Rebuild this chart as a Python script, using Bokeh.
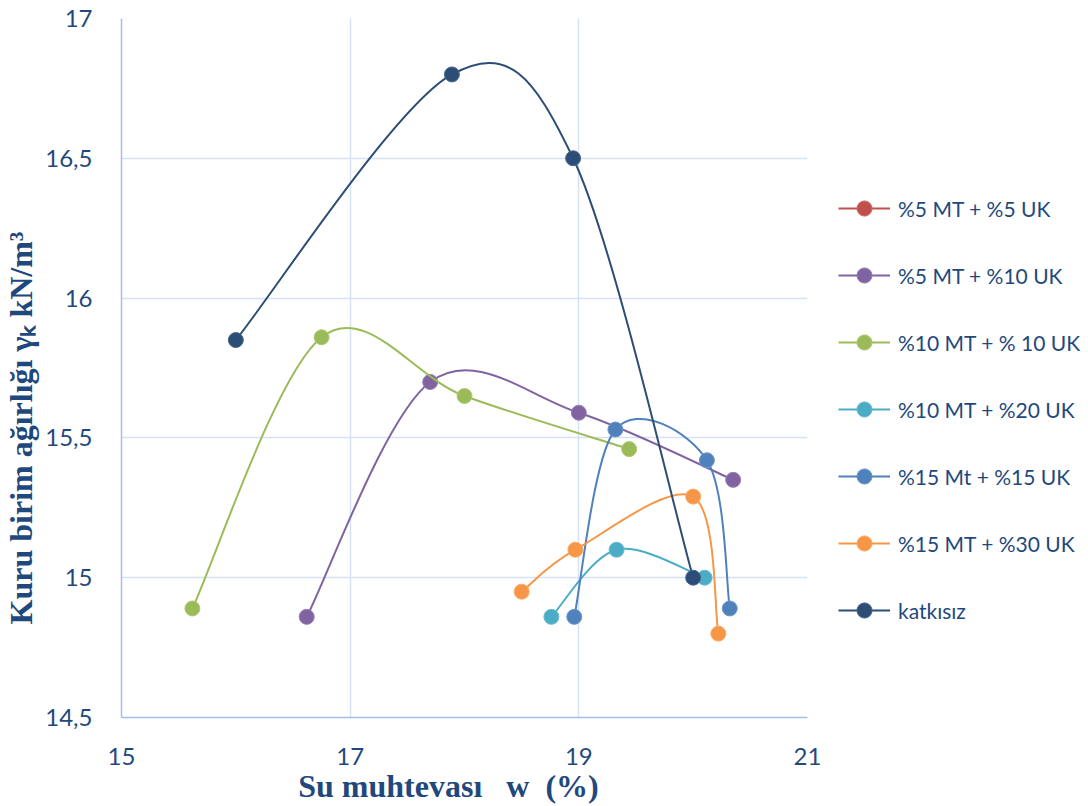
from bokeh.plotting import figure
from bokeh.layouts import row
from bokeh.models import Range1d, FixedTicker, Legend, LegendItem, ColumnDataSource
from bokeh.embed import file_html
from bokeh.resources import INLINE

# ---- data ----
series_names = ["%5 MT + %5 UK", "%5 MT + %10 UK", "%10 MT + % 10 UK", "%10 MT + %20 UK",
                "%15 Mt + %15 UK", "%15 MT + %30 UK", "katkısız"]
x_5_5 = []
y_5_5 = []
x_5_10 = [16.62, 17.70, 19.00, 20.35]
y_5_10 = [14.86, 15.70, 15.59, 15.35]
x_10_10 = [15.62, 16.75, 18.00, 19.44]
y_10_10 = [14.89, 15.86, 15.65, 15.46]
x_10_20 = [18.76, 19.33, 20.10]
y_10_20 = [14.86, 15.10, 15.00]
x_15_15 = [18.96, 19.32, 20.12, 20.32]
y_15_15 = [14.86, 15.53, 15.42, 14.89]
x_15_30 = [18.50, 18.97, 20.00, 20.22]
y_15_30 = [14.95, 15.10, 15.29, 14.80]
x_katkisiz = [16.00, 17.89, 18.95, 20.00]
y_katkisiz = [15.85, 16.80, 16.50, 15.00]

x_ticks = [15, 17, 19, 21]
y_ticks = [14.5, 15, 15.5, 16, 16.5, 17]
y_tick_labels = ["14,5", "15", "15,5", "16", "16,5", "17"]

colors = ["#C0504D", "#8064A2", "#9BBB59", "#4BACC6", "#4F81BD", "#F79646", "#2C4D75"]
edge_colors = ["#CC6F6C", "#9580B2", "#AFC97A", "#6CBCD1", "#7097CA", "#F9AB6B", "#4A6890"]
xs_all = [x_5_5, x_5_10, x_10_10, x_10_20, x_15_15, x_15_30, x_katkisiz]
ys_all = [y_5_5, y_5_10, y_10_10, y_10_20, y_15_15, y_15_30, y_katkisiz]

TEXT = "#1F497D"
NB = "\u00a0"
NAN = float("nan")


def smooth_segments(xs, ys, f=1.0 / 6.0):
    """Catmull-Rom style Bezier control points (like a spreadsheet's smoothed line)."""
    n = len(xs)
    out = dict(x0=[], y0=[], x1=[], y1=[], cx0=[], cy0=[], cx1=[], cy1=[])
    for i in range(n - 1):
        p0 = (xs[i - 1], ys[i - 1]) if i > 0 else (xs[i], ys[i])
        p1 = (xs[i], ys[i])
        p2 = (xs[i + 1], ys[i + 1])
        p3 = (xs[i + 2], ys[i + 2]) if i + 2 < n else (xs[i + 1], ys[i + 1])
        out["x0"].append(p1[0]); out["y0"].append(p1[1])
        out["x1"].append(p2[0]); out["y1"].append(p2[1])
        out["cx0"].append(p1[0] + (p2[0] - p0[0]) * f)
        out["cy0"].append(p1[1] + (p2[1] - p0[1]) * f)
        out["cx1"].append(p2[0] - (p3[0] - p1[0]) * f)
        out["cy1"].append(p2[1] - (p3[1] - p1[1]) * f)
    return out


p = figure(width=830, height=806, x_range=Range1d(15, 21), y_range=Range1d(14.5, 17),
           output_backend="svg", toolbar_location=None,
           min_border_left=121, min_border_right=23, min_border_top=18, min_border_bottom=88)
p.outline_line_color = None
p.background_fill_color = "white"
p.border_fill_color = "white"

p.xgrid.grid_line_color = "#D5E2F4"
p.ygrid.grid_line_color = "#D5E2F4"
p.xgrid.grid_line_width = 1.5
p.ygrid.grid_line_width = 1.5

p.xaxis.ticker = FixedTicker(ticks=x_ticks)
p.yaxis.ticker = FixedTicker(ticks=y_ticks)
p.yaxis.major_label_overrides = {t: l for t, l in zip(y_ticks, y_tick_labels)}
p.xaxis.major_label_overrides = {t: str(t) for t in x_ticks}
for ax in (p.xaxis[0], p.yaxis[0]):
    ax.major_tick_line_color = None
    ax.minor_tick_line_color = None
    ax.axis_line_color = "#A3BFE6"
    ax.axis_line_width = 1.5
    ax.major_label_text_font = "Lato"
    ax.major_label_text_font_size = "24px"
    ax.major_label_text_color = TEXT
    ax.axis_label_text_font = "Liberation Serif"
    ax.axis_label_text_font_style = "bold"
    ax.axis_label_text_color = TEXT
    ax.axis_label_text_font_size = "32px"
p.yaxis.major_label_standoff = 23
p.xaxis.major_label_standoff = 24
p.xaxis.axis_label = "Su muhtevası" + NB * 3 + "w" + NB * 2 + "(%)" + NB * 4
p.yaxis.axis_label = "Kuru birim ağırlığı γₖ kN/m³" + NB * 15
p.xaxis.axis_label_standoff = 0
p.yaxis.axis_label_standoff = 3

# legend panel (separate, axis-less figure to the right of the chart)
q = figure(width=258, height=806, x_range=Range1d(0, 1), y_range=Range1d(0, 1),
           output_backend="svg", toolbar_location=None,
           min_border_left=0, min_border_right=0, min_border_top=0, min_border_bottom=0)
q.axis.visible = False
q.grid.visible = False
q.outline_line_color = None
q.background_fill_color = "white"
q.border_fill_color = "white"

items = []
for name, xs, ys, c, ec in zip(series_names, xs_all, ys_all, colors, edge_colors):
    if len(xs) > 1:
        seg = smooth_segments(xs, ys)
        p.bezier(x0="x0", y0="y0", x1="x1", y1="y1", cx0="cx0", cy0="cy0", cx1="cx1", cy1="cy1",
                 source=ColumnDataSource(seg), line_color=c, line_width=2)
    if len(xs) > 0:
        p.scatter(x=xs, y=ys, size=15, fill_color=c, line_color=ec, line_width=1)
    # legend-only renderers (hold no visible data)
    leg_line = q.line(x=[NAN], y=[NAN], line_color=c, line_width=2)
    leg_mark = q.scatter(x=[NAN], y=[NAN], size=15, fill_color=c, line_color=ec, line_width=1)
    items.append(LegendItem(label=name, renderers=[leg_line, leg_mark]))

legend = Legend(items=items, location=(8, 88), padding=0, margin=0,
                glyph_width=52, glyph_height=38, label_height=38, spacing=29,
                label_standoff=8, label_text_font="Lato", label_text_font_size="21px",
                label_text_color=TEXT, background_fill_alpha=0, border_line_color=None)
q.add_layout(legend, "center")

layout = row(p, q)
open("out.html", "w").write(file_html(layout, INLINE))
